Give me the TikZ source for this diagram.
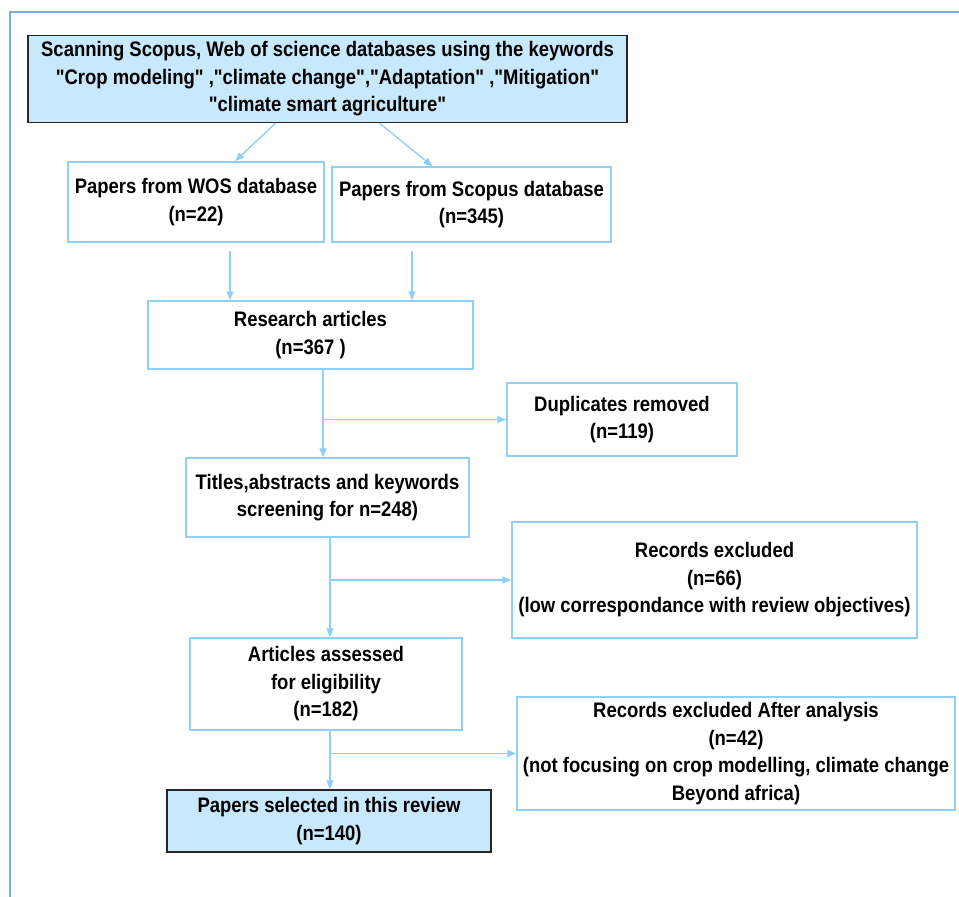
\documentclass[tikz,border=0pt]{standalone}
\usepackage{fontspec}
\newfontfamily\boxfont{Liberation Sans}[FakeStretch=0.88]
\usetikzlibrary{arrows.meta,calc}
\definecolor{lineblue}{HTML}{8ED0F7}
\definecolor{fillblue}{HTML}{C8E8FB}
\definecolor{frameblue}{HTML}{7AAEE3}
\begin{document}
\begin{tikzpicture}[x=1pt,y=-1pt,
  box/.style={draw=lineblue,line width=1.4pt,fill=white,inner sep=0pt,align=center,
    font=\boxfont\bfseries\fontsize{21}{27.5}\selectfont},
  darkbox/.style={box,draw=black!85,fill=fillblue},
  arr/.style={draw=lineblue,line width=1.4pt,-{Triangle[length=9pt,width=7pt]}}]
\useasboundingbox (0,0) rectangle (959,897);
\draw[frameblue,line width=1.6pt] (10,897) -- (10,12) -- (959,12);
% nodes
\node[darkbox,minimum width=599pt,minimum height=87pt] (top) at (327.5,79)
  {Scanning Scopus, Web of science databases using the keywords\\
   "Crop modeling" ,"climate change","Adaptation" ,"Mitigation"\\
   "climate smart agriculture"};
\node[box,minimum width=256pt,minimum height=80pt] (wos) at (196,202)
  {Papers from WOS database\\(n=22)};
\node[box,minimum width=279pt,minimum height=75pt] (scopus) at (471.5,204.5)
  {Papers from Scopus database\\(n=345)};
\node[box,minimum width=325pt,minimum height=68pt] (research) at (310.5,335)
  {Research articles\\(n=367 )};
\node[box,minimum width=230pt,minimum height=73pt] (dup) at (622,419.5)
  {Duplicates removed\\(n=119)};
\node[box,minimum width=283pt,minimum height=79pt] (titles) at (327.5,497.5)
  {Titles,abstracts and keywords\\screening for n=248)};
\node[box,minimum width=405pt,minimum height=116pt] (rec1) at (714.5,580)
  {Records excluded\\(n=66)\\(low correspondance with review objectives)};
\node[box,minimum width=272pt,minimum height=92pt] (articles) at (326,684)
  {Articles assessed\\ for eligibility\\(n=182)};
\node[box,minimum width=438pt,minimum height=113pt] (rec2) at (736,753.5)
  {Records excluded After analysis\\(n=42)\\(not focusing on crop modelling, climate change\\Beyond africa)};
\node[darkbox,minimum width=324pt,minimum height=62pt] (final) at (329,821)
  {Papers selected in this review\\(n=140)};
% connectors
\draw[arr] ([xshift=-52pt]top.south) -- ([xshift=39pt]wos.north);
\draw[arr] ([xshift=52pt]top.south) -- ([xshift=-39pt]scopus.north);
\coordinate (w1) at ([xshift=34pt,yshift=-8pt]wos.south);
\coordinate (s1) at ([xshift=-59.5pt,yshift=-8pt]scopus.south);
\draw[arr] (w1) -- (w1 |- research.north);
\draw[arr] (s1) -- (s1 |- research.north);
\coordinate (r1) at ([xshift=12.5pt]research.south);
\draw[arr] (r1) -- (r1 |- titles.north);
\coordinate (r2) at (r1 |- dup.west);
\draw[arr] (r2) -- (dup.west);
\coordinate (t1) at ([xshift=2.5pt]titles.south);
\draw[arr] (t1) -- (t1 |- articles.north);
\coordinate (t2) at (t1 |- rec1.west);
\draw[arr] (t2) -- (rec1.west);
\coordinate (a1) at ([xshift=4pt]articles.south);
\draw[arr] (a1) -- (a1 |- final.north);
\coordinate (a2) at (a1 |- rec2.west);
\draw[arr] (a2) -- (rec2.west);
\end{tikzpicture}
\end{document}
